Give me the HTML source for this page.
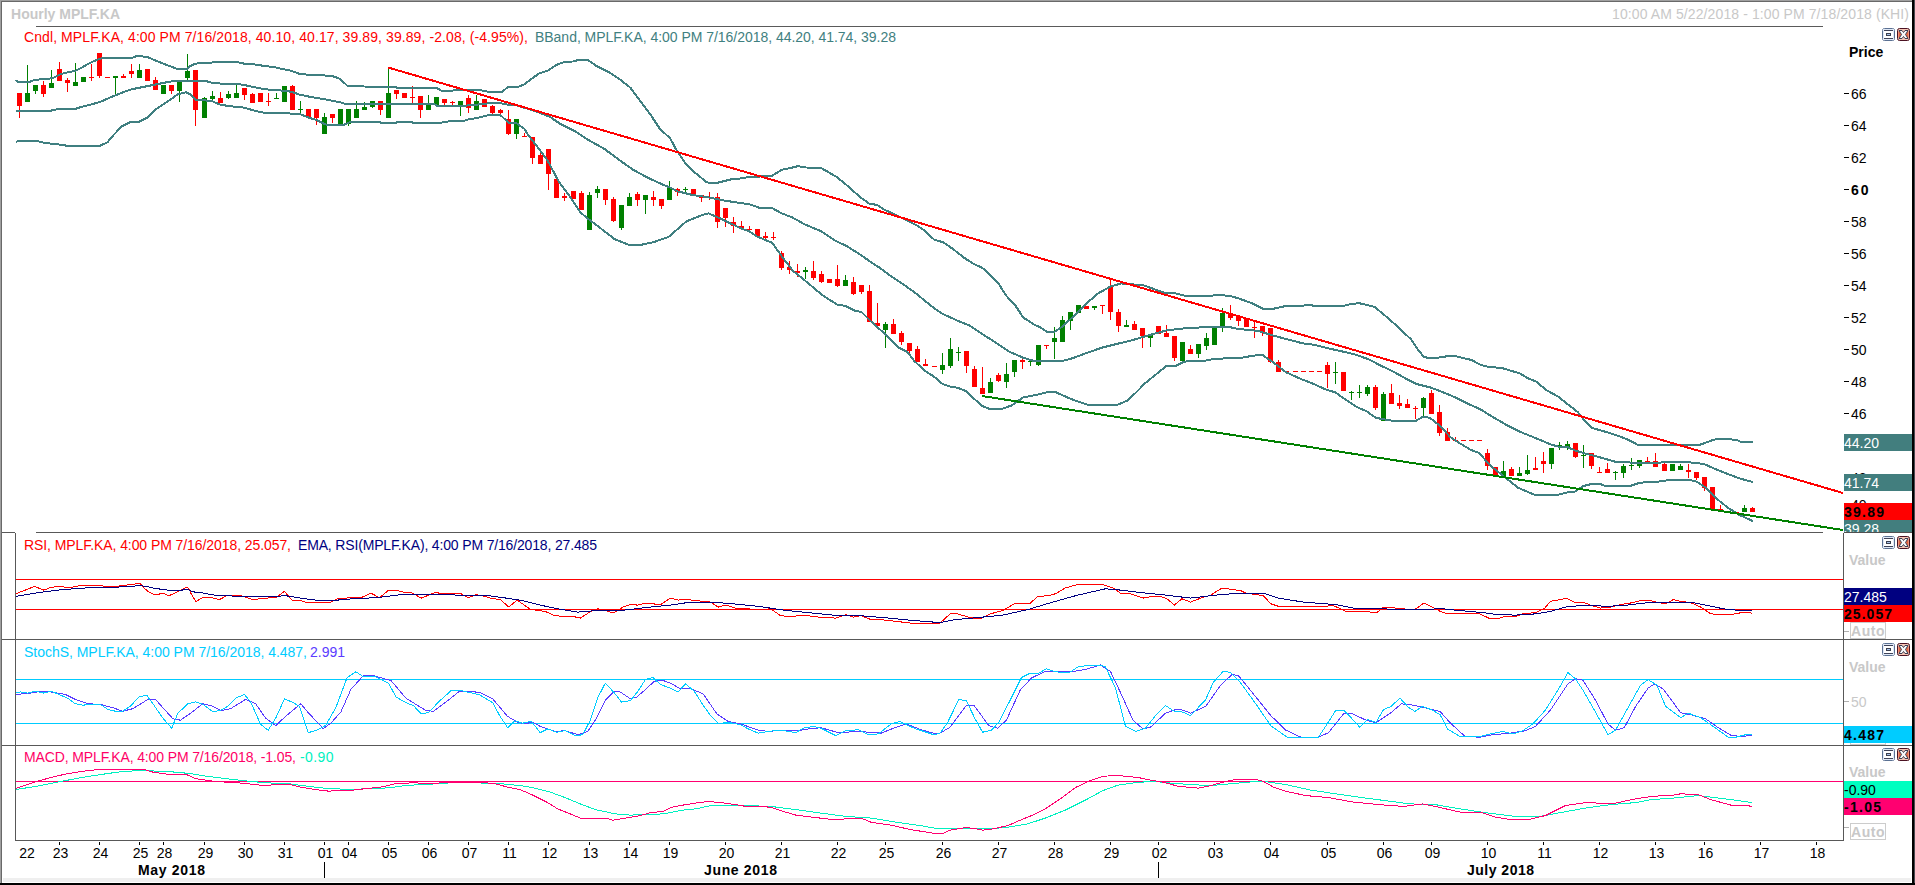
<!DOCTYPE html>
<html><head><meta charset="utf-8"><title>Hourly MPLF.KA</title><style>html,body{margin:0;padding:0;background:#fff;overflow:hidden}svg{display:block}</style></head><body>
<svg width="1915" height="885" viewBox="0 0 1915 885" font-family="'Liberation Sans', Arial, sans-serif">
<rect x="0" y="0" width="1915" height="885" fill="#ffffff"/>
<text x="11" y="19" fill="#c8c8c8" font-size="14" font-weight="bold" textLength="109" lengthAdjust="spacing">Hourly MPLF.KA</text>
<text x="1909" y="19" fill="#c8c8c8" font-size="14" text-anchor="end" textLength="297" lengthAdjust="spacing">10:00 AM 5/22/2018 - 1:00 PM 7/18/2018 (KHI)</text>
<rect x="36" y="26" width="1787" height="1" fill="#5a5a5a"/>
<text y="42" font-size="14"><tspan x="24" fill="#ff0000" textLength="504" lengthAdjust="spacing">Cndl, MPLF.KA, 4:00 PM 7/16/2018, 40.10, 40.17, 39.89, 39.89, -2.08, (-4.95%),</tspan><tspan x="535" fill="#3f8080" textLength="361" lengthAdjust="spacing">BBand, MPLF.KA, 4:00 PM 7/16/2018, 44.20, 41.74, 39.28</tspan></text>
<defs><clipPath id="cm"><rect x="2" y="27" width="1841" height="505"/></clipPath><clipPath id="cr"><rect x="16" y="533" width="1827" height="106"/></clipPath><clipPath id="cs"><rect x="16" y="640" width="1827" height="105"/></clipPath><clipPath id="cd"><rect x="16" y="746" width="1827" height="94"/></clipPath></defs>
<g clip-path="url(#cm)" shape-rendering="crispEdges">
<rect x="19" y="93" width="1" height="25" fill="#ff0000"/>
<rect x="17" y="93" width="5" height="13" fill="#ff0000"/>
<rect x="27" y="65" width="1" height="37" fill="#008000"/>
<rect x="25" y="93" width="5" height="9" fill="#008000"/>
<rect x="35" y="85" width="1" height="9" fill="#008000"/>
<rect x="33" y="85" width="5" height="6" fill="#008000"/>
<rect x="43" y="81" width="1" height="16" fill="#ff0000"/>
<rect x="41" y="85" width="5" height="9" fill="#ff0000"/>
<rect x="51" y="70" width="1" height="18" fill="#008000"/>
<rect x="49" y="83" width="5" height="5" fill="#008000"/>
<rect x="59" y="62" width="1" height="19" fill="#ff0000"/>
<rect x="57" y="69" width="5" height="12" fill="#ff0000"/>
<rect x="67" y="78" width="1" height="14" fill="#ff0000"/>
<rect x="65" y="80" width="5" height="3" fill="#ff0000"/>
<rect x="75" y="63" width="1" height="23" fill="#008000"/>
<rect x="73" y="82" width="5" height="4" fill="#008000"/>
<rect x="83" y="77" width="1" height="5" fill="#008000"/>
<rect x="81" y="77" width="5" height="5" fill="#008000"/>
<rect x="91" y="64" width="1" height="17" fill="#ff0000"/>
<rect x="89" y="77" width="5" height="1" fill="#ff0000"/>
<rect x="99" y="53" width="1" height="25" fill="#ff0000"/>
<rect x="97" y="53" width="5" height="23" fill="#ff0000"/>
<rect x="105" y="77" width="5" height="1" fill="#ff0000"/>
<rect x="115" y="76" width="1" height="18" fill="#008000"/>
<rect x="113" y="76" width="5" height="2" fill="#008000"/>
<rect x="123" y="74" width="1" height="4" fill="#ff0000"/>
<rect x="121" y="76" width="5" height="2" fill="#ff0000"/>
<rect x="131" y="64" width="1" height="14" fill="#ff0000"/>
<rect x="129" y="71" width="5" height="3" fill="#ff0000"/>
<rect x="139" y="64" width="1" height="14" fill="#008000"/>
<rect x="137" y="70" width="5" height="8" fill="#008000"/>
<rect x="147" y="69" width="1" height="12" fill="#ff0000"/>
<rect x="145" y="69" width="5" height="12" fill="#ff0000"/>
<rect x="155" y="77" width="1" height="13" fill="#ff0000"/>
<rect x="153" y="80" width="5" height="10" fill="#ff0000"/>
<rect x="163" y="85" width="1" height="9" fill="#008000"/>
<rect x="161" y="85" width="5" height="9" fill="#008000"/>
<rect x="171" y="85" width="1" height="9" fill="#ff0000"/>
<rect x="169" y="85" width="5" height="6" fill="#ff0000"/>
<rect x="179" y="82" width="1" height="20" fill="#008000"/>
<rect x="177" y="82" width="5" height="9" fill="#008000"/>
<rect x="187" y="54" width="1" height="26" fill="#008000"/>
<rect x="185" y="71" width="5" height="7" fill="#008000"/>
<rect x="195" y="70" width="1" height="56" fill="#ff0000"/>
<rect x="193" y="70" width="5" height="40" fill="#ff0000"/>
<rect x="204" y="97" width="1" height="21" fill="#008000"/>
<rect x="202" y="98" width="5" height="20" fill="#008000"/>
<rect x="212" y="91" width="1" height="9" fill="#008000"/>
<rect x="210" y="96" width="5" height="3" fill="#008000"/>
<rect x="220" y="92" width="1" height="11" fill="#ff0000"/>
<rect x="218" y="98" width="5" height="5" fill="#ff0000"/>
<rect x="228" y="91" width="1" height="8" fill="#008000"/>
<rect x="226" y="94" width="5" height="4" fill="#008000"/>
<rect x="236" y="85" width="1" height="13" fill="#008000"/>
<rect x="234" y="93" width="5" height="5" fill="#008000"/>
<rect x="244" y="88" width="1" height="12" fill="#ff0000"/>
<rect x="242" y="88" width="5" height="7" fill="#ff0000"/>
<rect x="252" y="93" width="1" height="10" fill="#ff0000"/>
<rect x="250" y="94" width="5" height="9" fill="#ff0000"/>
<rect x="260" y="93" width="1" height="9" fill="#ff0000"/>
<rect x="258" y="93" width="5" height="9" fill="#ff0000"/>
<rect x="268" y="93" width="1" height="13" fill="#ff0000"/>
<rect x="266" y="101" width="5" height="1" fill="#ff0000"/>
<rect x="276" y="93" width="1" height="6" fill="#008000"/>
<rect x="274" y="98" width="5" height="1" fill="#008000"/>
<rect x="284" y="86" width="1" height="16" fill="#008000"/>
<rect x="282" y="86" width="5" height="16" fill="#008000"/>
<rect x="292" y="85" width="1" height="25" fill="#ff0000"/>
<rect x="290" y="86" width="5" height="24" fill="#ff0000"/>
<rect x="300" y="101" width="1" height="12" fill="#008000"/>
<rect x="298" y="109" width="5" height="1" fill="#008000"/>
<rect x="308" y="109" width="1" height="8" fill="#ff0000"/>
<rect x="306" y="109" width="5" height="8" fill="#ff0000"/>
<rect x="316" y="109" width="1" height="16" fill="#ff0000"/>
<rect x="314" y="109" width="5" height="9" fill="#ff0000"/>
<rect x="324" y="113" width="1" height="21" fill="#008000"/>
<rect x="322" y="117" width="5" height="17" fill="#008000"/>
<rect x="332" y="114" width="1" height="9" fill="#ff0000"/>
<rect x="330" y="114" width="5" height="4" fill="#ff0000"/>
<rect x="340" y="109" width="1" height="15" fill="#008000"/>
<rect x="338" y="109" width="5" height="15" fill="#008000"/>
<rect x="348" y="109" width="1" height="17" fill="#008000"/>
<rect x="346" y="109" width="5" height="15" fill="#008000"/>
<rect x="356" y="101" width="1" height="17" fill="#008000"/>
<rect x="354" y="109" width="5" height="9" fill="#008000"/>
<rect x="364" y="102" width="1" height="8" fill="#008000"/>
<rect x="362" y="107" width="5" height="3" fill="#008000"/>
<rect x="372" y="101" width="1" height="7" fill="#008000"/>
<rect x="370" y="101" width="5" height="6" fill="#008000"/>
<rect x="380" y="101" width="1" height="14" fill="#ff0000"/>
<rect x="378" y="101" width="5" height="9" fill="#ff0000"/>
<rect x="388" y="67" width="1" height="51" fill="#008000"/>
<rect x="386" y="93" width="5" height="25" fill="#008000"/>
<rect x="396" y="90" width="1" height="9" fill="#ff0000"/>
<rect x="394" y="90" width="5" height="4" fill="#ff0000"/>
<rect x="404" y="93" width="1" height="5" fill="#ff0000"/>
<rect x="402" y="93" width="5" height="5" fill="#ff0000"/>
<rect x="412" y="86" width="1" height="18" fill="#ff0000"/>
<rect x="410" y="97" width="5" height="1" fill="#ff0000"/>
<rect x="420" y="96" width="1" height="22" fill="#ff0000"/>
<rect x="418" y="96" width="5" height="14" fill="#ff0000"/>
<rect x="428" y="95" width="1" height="15" fill="#008000"/>
<rect x="426" y="105" width="5" height="5" fill="#008000"/>
<rect x="436" y="97" width="1" height="8" fill="#008000"/>
<rect x="434" y="97" width="5" height="8" fill="#008000"/>
<rect x="444" y="99" width="1" height="6" fill="#ff0000"/>
<rect x="442" y="99" width="5" height="4" fill="#ff0000"/>
<rect x="452" y="101" width="1" height="4" fill="#ff0000"/>
<rect x="450" y="102" width="5" height="1" fill="#ff0000"/>
<rect x="460" y="101" width="1" height="15" fill="#008000"/>
<rect x="458" y="101" width="5" height="6" fill="#008000"/>
<rect x="468" y="95" width="1" height="18" fill="#ff0000"/>
<rect x="466" y="98" width="5" height="10" fill="#ff0000"/>
<rect x="476" y="95" width="1" height="15" fill="#008000"/>
<rect x="474" y="101" width="5" height="9" fill="#008000"/>
<rect x="484" y="99" width="1" height="8" fill="#ff0000"/>
<rect x="482" y="99" width="5" height="8" fill="#ff0000"/>
<rect x="492" y="105" width="1" height="9" fill="#ff0000"/>
<rect x="490" y="106" width="5" height="7" fill="#ff0000"/>
<rect x="500" y="109" width="1" height="5" fill="#ff0000"/>
<rect x="498" y="110" width="5" height="3" fill="#ff0000"/>
<rect x="508" y="110" width="1" height="25" fill="#ff0000"/>
<rect x="506" y="119" width="5" height="15" fill="#ff0000"/>
<rect x="516" y="119" width="1" height="20" fill="#008000"/>
<rect x="514" y="119" width="5" height="15" fill="#008000"/>
<rect x="524" y="133" width="1" height="4" fill="#ff0000"/>
<rect x="522" y="136" width="5" height="1" fill="#ff0000"/>
<rect x="532" y="137" width="1" height="27" fill="#ff0000"/>
<rect x="530" y="137" width="5" height="21" fill="#ff0000"/>
<rect x="540" y="153" width="1" height="11" fill="#ff0000"/>
<rect x="538" y="155" width="5" height="9" fill="#ff0000"/>
<rect x="548" y="149" width="1" height="41" fill="#ff0000"/>
<rect x="546" y="149" width="5" height="25" fill="#ff0000"/>
<rect x="556" y="179" width="1" height="19" fill="#ff0000"/>
<rect x="554" y="179" width="5" height="19" fill="#ff0000"/>
<rect x="564" y="193" width="1" height="8" fill="#ff0000"/>
<rect x="562" y="196" width="5" height="2" fill="#ff0000"/>
<rect x="573" y="191" width="1" height="8" fill="#ff0000"/>
<rect x="571" y="191" width="5" height="8" fill="#ff0000"/>
<rect x="581" y="191" width="1" height="19" fill="#ff0000"/>
<rect x="579" y="193" width="5" height="17" fill="#ff0000"/>
<rect x="589" y="192" width="1" height="38" fill="#008000"/>
<rect x="587" y="195" width="5" height="35" fill="#008000"/>
<rect x="597" y="186" width="1" height="12" fill="#008000"/>
<rect x="595" y="189" width="5" height="4" fill="#008000"/>
<rect x="605" y="189" width="1" height="16" fill="#ff0000"/>
<rect x="603" y="189" width="5" height="11" fill="#ff0000"/>
<rect x="613" y="197" width="1" height="25" fill="#ff0000"/>
<rect x="611" y="199" width="5" height="22" fill="#ff0000"/>
<rect x="621" y="205" width="1" height="25" fill="#008000"/>
<rect x="619" y="205" width="5" height="23" fill="#008000"/>
<rect x="629" y="193" width="1" height="13" fill="#008000"/>
<rect x="627" y="197" width="5" height="9" fill="#008000"/>
<rect x="637" y="192" width="1" height="14" fill="#ff0000"/>
<rect x="635" y="194" width="5" height="6" fill="#ff0000"/>
<rect x="645" y="195" width="1" height="19" fill="#008000"/>
<rect x="643" y="195" width="5" height="5" fill="#008000"/>
<rect x="653" y="191" width="1" height="15" fill="#ff0000"/>
<rect x="651" y="197" width="5" height="3" fill="#ff0000"/>
<rect x="661" y="199" width="1" height="10" fill="#ff0000"/>
<rect x="659" y="199" width="5" height="7" fill="#ff0000"/>
<rect x="669" y="181" width="1" height="19" fill="#008000"/>
<rect x="667" y="187" width="5" height="13" fill="#008000"/>
<rect x="677" y="188" width="1" height="8" fill="#ff0000"/>
<rect x="675" y="189" width="5" height="3" fill="#ff0000"/>
<rect x="685" y="187" width="1" height="5" fill="#008000"/>
<rect x="683" y="189" width="5" height="1" fill="#008000"/>
<rect x="693" y="189" width="1" height="6" fill="#ff0000"/>
<rect x="691" y="189" width="5" height="6" fill="#ff0000"/>
<rect x="701" y="195" width="1" height="7" fill="#ff0000"/>
<rect x="699" y="195" width="5" height="3" fill="#ff0000"/>
<rect x="709" y="192" width="1" height="8" fill="#ff0000"/>
<rect x="707" y="197" width="5" height="1" fill="#ff0000"/>
<rect x="717" y="193" width="1" height="35" fill="#ff0000"/>
<rect x="715" y="197" width="5" height="25" fill="#ff0000"/>
<rect x="725" y="208" width="1" height="19" fill="#ff0000"/>
<rect x="723" y="208" width="5" height="10" fill="#ff0000"/>
<rect x="733" y="217" width="1" height="16" fill="#ff0000"/>
<rect x="731" y="222" width="5" height="4" fill="#ff0000"/>
<rect x="741" y="221" width="1" height="9" fill="#ff0000"/>
<rect x="739" y="226" width="5" height="2" fill="#ff0000"/>
<rect x="749" y="226" width="1" height="4" fill="#ff0000"/>
<rect x="747" y="229" width="5" height="1" fill="#ff0000"/>
<rect x="757" y="229" width="1" height="7" fill="#ff0000"/>
<rect x="755" y="229" width="5" height="7" fill="#ff0000"/>
<rect x="765" y="232" width="1" height="7" fill="#ff0000"/>
<rect x="763" y="236" width="5" height="2" fill="#ff0000"/>
<rect x="773" y="232" width="1" height="8" fill="#ff0000"/>
<rect x="771" y="237" width="5" height="1" fill="#ff0000"/>
<rect x="781" y="251" width="1" height="19" fill="#ff0000"/>
<rect x="779" y="253" width="5" height="15" fill="#ff0000"/>
<rect x="789" y="261" width="1" height="13" fill="#ff0000"/>
<rect x="787" y="267" width="5" height="3" fill="#ff0000"/>
<rect x="797" y="264" width="1" height="13" fill="#ff0000"/>
<rect x="795" y="271" width="5" height="2" fill="#ff0000"/>
<rect x="805" y="267" width="1" height="12" fill="#008000"/>
<rect x="803" y="270" width="5" height="2" fill="#008000"/>
<rect x="813" y="261" width="1" height="19" fill="#ff0000"/>
<rect x="811" y="271" width="5" height="7" fill="#ff0000"/>
<rect x="821" y="271" width="1" height="12" fill="#ff0000"/>
<rect x="819" y="274" width="5" height="8" fill="#ff0000"/>
<rect x="829" y="279" width="1" height="4" fill="#ff0000"/>
<rect x="827" y="279" width="5" height="4" fill="#ff0000"/>
<rect x="837" y="265" width="1" height="22" fill="#ff0000"/>
<rect x="835" y="279" width="5" height="7" fill="#ff0000"/>
<rect x="845" y="275" width="1" height="11" fill="#008000"/>
<rect x="843" y="280" width="5" height="6" fill="#008000"/>
<rect x="853" y="277" width="1" height="18" fill="#ff0000"/>
<rect x="851" y="282" width="5" height="12" fill="#ff0000"/>
<rect x="861" y="285" width="1" height="9" fill="#ff0000"/>
<rect x="859" y="285" width="5" height="7" fill="#ff0000"/>
<rect x="869" y="285" width="1" height="37" fill="#ff0000"/>
<rect x="867" y="291" width="5" height="31" fill="#ff0000"/>
<rect x="877" y="303" width="1" height="23" fill="#ff0000"/>
<rect x="875" y="323" width="5" height="3" fill="#ff0000"/>
<rect x="885" y="322" width="1" height="26" fill="#008000"/>
<rect x="883" y="324" width="5" height="6" fill="#008000"/>
<rect x="893" y="319" width="1" height="15" fill="#ff0000"/>
<rect x="891" y="324" width="5" height="10" fill="#ff0000"/>
<rect x="901" y="331" width="1" height="14" fill="#ff0000"/>
<rect x="899" y="333" width="5" height="9" fill="#ff0000"/>
<rect x="909" y="343" width="1" height="11" fill="#ff0000"/>
<rect x="907" y="343" width="5" height="8" fill="#ff0000"/>
<rect x="917" y="346" width="1" height="16" fill="#ff0000"/>
<rect x="915" y="349" width="5" height="13" fill="#ff0000"/>
<rect x="925" y="359" width="1" height="7" fill="#ff0000"/>
<rect x="923" y="364" width="5" height="2" fill="#ff0000"/>
<rect x="932" y="366" width="5" height="1" fill="#ff0000"/>
<rect x="942" y="353" width="1" height="21" fill="#008000"/>
<rect x="940" y="365" width="5" height="5" fill="#008000"/>
<rect x="950" y="338" width="1" height="30" fill="#008000"/>
<rect x="948" y="349" width="5" height="17" fill="#008000"/>
<rect x="958" y="347" width="1" height="14" fill="#008000"/>
<rect x="956" y="352" width="5" height="1" fill="#008000"/>
<rect x="966" y="351" width="1" height="22" fill="#ff0000"/>
<rect x="964" y="351" width="5" height="15" fill="#ff0000"/>
<rect x="974" y="366" width="1" height="21" fill="#ff0000"/>
<rect x="972" y="369" width="5" height="18" fill="#ff0000"/>
<rect x="982" y="367" width="1" height="27" fill="#ff0000"/>
<rect x="980" y="388" width="5" height="6" fill="#ff0000"/>
<rect x="990" y="378" width="1" height="15" fill="#008000"/>
<rect x="988" y="382" width="5" height="11" fill="#008000"/>
<rect x="998" y="373" width="1" height="9" fill="#ff0000"/>
<rect x="996" y="375" width="5" height="6" fill="#ff0000"/>
<rect x="1006" y="363" width="1" height="25" fill="#008000"/>
<rect x="1004" y="374" width="5" height="8" fill="#008000"/>
<rect x="1014" y="360" width="1" height="17" fill="#008000"/>
<rect x="1012" y="360" width="5" height="12" fill="#008000"/>
<rect x="1022" y="356" width="1" height="13" fill="#ff0000"/>
<rect x="1020" y="360" width="5" height="2" fill="#ff0000"/>
<rect x="1030" y="360" width="1" height="6" fill="#008000"/>
<rect x="1028" y="361" width="5" height="1" fill="#008000"/>
<rect x="1038" y="345" width="1" height="21" fill="#008000"/>
<rect x="1036" y="345" width="5" height="20" fill="#008000"/>
<rect x="1046" y="345" width="1" height="4" fill="#ff0000"/>
<rect x="1044" y="345" width="5" height="1" fill="#ff0000"/>
<rect x="1054" y="327" width="1" height="32" fill="#008000"/>
<rect x="1052" y="338" width="5" height="4" fill="#008000"/>
<rect x="1062" y="316" width="1" height="26" fill="#008000"/>
<rect x="1060" y="320" width="5" height="22" fill="#008000"/>
<rect x="1070" y="312" width="1" height="18" fill="#008000"/>
<rect x="1068" y="312" width="5" height="9" fill="#008000"/>
<rect x="1078" y="305" width="1" height="8" fill="#008000"/>
<rect x="1076" y="305" width="5" height="8" fill="#008000"/>
<rect x="1086" y="306" width="1" height="3" fill="#ff0000"/>
<rect x="1084" y="306" width="5" height="3" fill="#ff0000"/>
<rect x="1094" y="306" width="1" height="4" fill="#008000"/>
<rect x="1092" y="306" width="5" height="2" fill="#008000"/>
<rect x="1102" y="305" width="1" height="9" fill="#ff0000"/>
<rect x="1100" y="305" width="5" height="1" fill="#ff0000"/>
<rect x="1110" y="280" width="1" height="40" fill="#ff0000"/>
<rect x="1108" y="286" width="5" height="26" fill="#ff0000"/>
<rect x="1118" y="309" width="1" height="23" fill="#ff0000"/>
<rect x="1116" y="312" width="5" height="14" fill="#ff0000"/>
<rect x="1126" y="320" width="1" height="7" fill="#008000"/>
<rect x="1124" y="325" width="5" height="2" fill="#008000"/>
<rect x="1134" y="321" width="1" height="9" fill="#ff0000"/>
<rect x="1132" y="324" width="5" height="6" fill="#ff0000"/>
<rect x="1142" y="328" width="1" height="20" fill="#ff0000"/>
<rect x="1140" y="328" width="5" height="8" fill="#ff0000"/>
<rect x="1150" y="335" width="1" height="12" fill="#008000"/>
<rect x="1148" y="335" width="5" height="3" fill="#008000"/>
<rect x="1158" y="326" width="1" height="8" fill="#ff0000"/>
<rect x="1156" y="326" width="5" height="8" fill="#ff0000"/>
<rect x="1166" y="325" width="1" height="12" fill="#ff0000"/>
<rect x="1164" y="333" width="5" height="4" fill="#ff0000"/>
<rect x="1174" y="336" width="1" height="25" fill="#ff0000"/>
<rect x="1172" y="336" width="5" height="22" fill="#ff0000"/>
<rect x="1182" y="342" width="1" height="19" fill="#008000"/>
<rect x="1180" y="342" width="5" height="19" fill="#008000"/>
<rect x="1190" y="345" width="1" height="9" fill="#ff0000"/>
<rect x="1188" y="349" width="5" height="5" fill="#ff0000"/>
<rect x="1198" y="344" width="1" height="14" fill="#008000"/>
<rect x="1196" y="344" width="5" height="10" fill="#008000"/>
<rect x="1206" y="333" width="1" height="17" fill="#008000"/>
<rect x="1204" y="338" width="5" height="8" fill="#008000"/>
<rect x="1214" y="328" width="1" height="17" fill="#008000"/>
<rect x="1212" y="328" width="5" height="17" fill="#008000"/>
<rect x="1222" y="308" width="1" height="24" fill="#008000"/>
<rect x="1220" y="313" width="5" height="15" fill="#008000"/>
<rect x="1230" y="305" width="1" height="15" fill="#ff0000"/>
<rect x="1228" y="313" width="5" height="5" fill="#ff0000"/>
<rect x="1238" y="316" width="1" height="10" fill="#ff0000"/>
<rect x="1236" y="316" width="5" height="5" fill="#ff0000"/>
<rect x="1246" y="319" width="1" height="8" fill="#ff0000"/>
<rect x="1244" y="319" width="5" height="8" fill="#ff0000"/>
<rect x="1254" y="321" width="1" height="17" fill="#ff0000"/>
<rect x="1252" y="327" width="5" height="1" fill="#ff0000"/>
<rect x="1262" y="326" width="1" height="10" fill="#ff0000"/>
<rect x="1260" y="326" width="5" height="6" fill="#ff0000"/>
<rect x="1270" y="328" width="1" height="35" fill="#ff0000"/>
<rect x="1268" y="328" width="5" height="34" fill="#ff0000"/>
<rect x="1278" y="360" width="1" height="12" fill="#ff0000"/>
<rect x="1276" y="362" width="5" height="10" fill="#ff0000"/>
<rect x="1284" y="371" width="5" height="1" fill="#ff0000"/>
<rect x="1293" y="371" width="5" height="1" fill="#ff0000"/>
<rect x="1301" y="371" width="5" height="1" fill="#ff0000"/>
<rect x="1309" y="371" width="5" height="1" fill="#ff0000"/>
<rect x="1317" y="371" width="5" height="1" fill="#ff0000"/>
<rect x="1327" y="362" width="1" height="26" fill="#ff0000"/>
<rect x="1325" y="365" width="5" height="9" fill="#ff0000"/>
<rect x="1335" y="362" width="1" height="22" fill="#008000"/>
<rect x="1333" y="372" width="5" height="1" fill="#008000"/>
<rect x="1343" y="372" width="1" height="19" fill="#ff0000"/>
<rect x="1341" y="372" width="5" height="19" fill="#ff0000"/>
<rect x="1351" y="391" width="1" height="9" fill="#008000"/>
<rect x="1349" y="392" width="5" height="1" fill="#008000"/>
<rect x="1359" y="385" width="1" height="13" fill="#008000"/>
<rect x="1357" y="392" width="5" height="1" fill="#008000"/>
<rect x="1367" y="385" width="1" height="11" fill="#008000"/>
<rect x="1365" y="387" width="5" height="7" fill="#008000"/>
<rect x="1375" y="385" width="1" height="25" fill="#ff0000"/>
<rect x="1373" y="387" width="5" height="21" fill="#ff0000"/>
<rect x="1383" y="392" width="1" height="29" fill="#008000"/>
<rect x="1381" y="394" width="5" height="27" fill="#008000"/>
<rect x="1391" y="384" width="1" height="20" fill="#ff0000"/>
<rect x="1389" y="393" width="5" height="11" fill="#ff0000"/>
<rect x="1399" y="395" width="1" height="14" fill="#ff0000"/>
<rect x="1397" y="403" width="5" height="3" fill="#ff0000"/>
<rect x="1407" y="399" width="1" height="9" fill="#ff0000"/>
<rect x="1405" y="404" width="5" height="4" fill="#ff0000"/>
<rect x="1415" y="406" width="1" height="13" fill="#ff0000"/>
<rect x="1413" y="408" width="5" height="1" fill="#ff0000"/>
<rect x="1423" y="397" width="1" height="19" fill="#008000"/>
<rect x="1421" y="398" width="5" height="10" fill="#008000"/>
<rect x="1431" y="390" width="1" height="24" fill="#ff0000"/>
<rect x="1429" y="393" width="5" height="21" fill="#ff0000"/>
<rect x="1439" y="405" width="1" height="31" fill="#ff0000"/>
<rect x="1437" y="412" width="5" height="21" fill="#ff0000"/>
<rect x="1447" y="428" width="1" height="13" fill="#ff0000"/>
<rect x="1445" y="432" width="5" height="9" fill="#ff0000"/>
<rect x="1455" y="437" width="1" height="4" fill="#ff0000"/>
<rect x="1453" y="440" width="5" height="1" fill="#ff0000"/>
<rect x="1461" y="440" width="5" height="1" fill="#ff0000"/>
<rect x="1469" y="440" width="5" height="1" fill="#ff0000"/>
<rect x="1477" y="440" width="5" height="1" fill="#ff0000"/>
<rect x="1487" y="449" width="1" height="21" fill="#ff0000"/>
<rect x="1485" y="453" width="5" height="13" fill="#ff0000"/>
<rect x="1495" y="467" width="1" height="8" fill="#ff0000"/>
<rect x="1493" y="467" width="5" height="8" fill="#ff0000"/>
<rect x="1503" y="461" width="1" height="15" fill="#008000"/>
<rect x="1501" y="471" width="5" height="5" fill="#008000"/>
<rect x="1511" y="467" width="1" height="9" fill="#ff0000"/>
<rect x="1509" y="469" width="5" height="7" fill="#ff0000"/>
<rect x="1519" y="467" width="1" height="9" fill="#008000"/>
<rect x="1517" y="473" width="5" height="3" fill="#008000"/>
<rect x="1527" y="455" width="1" height="20" fill="#008000"/>
<rect x="1525" y="470" width="5" height="4" fill="#008000"/>
<rect x="1535" y="457" width="1" height="13" fill="#ff0000"/>
<rect x="1533" y="468" width="5" height="2" fill="#ff0000"/>
<rect x="1543" y="452" width="1" height="21" fill="#ff0000"/>
<rect x="1541" y="461" width="5" height="3" fill="#ff0000"/>
<rect x="1551" y="448" width="1" height="21" fill="#008000"/>
<rect x="1549" y="448" width="5" height="16" fill="#008000"/>
<rect x="1559" y="442" width="1" height="8" fill="#008000"/>
<rect x="1557" y="445" width="5" height="1" fill="#008000"/>
<rect x="1567" y="441" width="1" height="9" fill="#008000"/>
<rect x="1565" y="444" width="5" height="3" fill="#008000"/>
<rect x="1575" y="443" width="1" height="15" fill="#ff0000"/>
<rect x="1573" y="443" width="5" height="14" fill="#ff0000"/>
<rect x="1583" y="445" width="1" height="23" fill="#008000"/>
<rect x="1581" y="455" width="5" height="1" fill="#008000"/>
<rect x="1591" y="453" width="1" height="16" fill="#ff0000"/>
<rect x="1589" y="453" width="5" height="13" fill="#ff0000"/>
<rect x="1599" y="467" width="1" height="6" fill="#ff0000"/>
<rect x="1597" y="472" width="5" height="1" fill="#ff0000"/>
<rect x="1607" y="463" width="1" height="10" fill="#ff0000"/>
<rect x="1605" y="469" width="5" height="4" fill="#ff0000"/>
<rect x="1615" y="471" width="1" height="9" fill="#008000"/>
<rect x="1613" y="472" width="5" height="1" fill="#008000"/>
<rect x="1623" y="464" width="1" height="14" fill="#008000"/>
<rect x="1621" y="466" width="5" height="7" fill="#008000"/>
<rect x="1631" y="458" width="1" height="12" fill="#008000"/>
<rect x="1629" y="465" width="5" height="1" fill="#008000"/>
<rect x="1639" y="460" width="1" height="8" fill="#008000"/>
<rect x="1637" y="460" width="5" height="6" fill="#008000"/>
<rect x="1647" y="457" width="1" height="5" fill="#ff0000"/>
<rect x="1645" y="461" width="5" height="1" fill="#ff0000"/>
<rect x="1655" y="453" width="1" height="14" fill="#ff0000"/>
<rect x="1653" y="461" width="5" height="6" fill="#ff0000"/>
<rect x="1664" y="461" width="1" height="10" fill="#ff0000"/>
<rect x="1662" y="464" width="5" height="7" fill="#ff0000"/>
<rect x="1672" y="464" width="1" height="7" fill="#008000"/>
<rect x="1670" y="464" width="5" height="7" fill="#008000"/>
<rect x="1680" y="464" width="1" height="6" fill="#008000"/>
<rect x="1678" y="466" width="5" height="4" fill="#008000"/>
<rect x="1688" y="464" width="1" height="14" fill="#ff0000"/>
<rect x="1686" y="470" width="5" height="2" fill="#ff0000"/>
<rect x="1696" y="472" width="1" height="8" fill="#ff0000"/>
<rect x="1694" y="472" width="5" height="6" fill="#ff0000"/>
<rect x="1704" y="477" width="1" height="14" fill="#ff0000"/>
<rect x="1702" y="477" width="5" height="11" fill="#ff0000"/>
<rect x="1712" y="487" width="1" height="22" fill="#ff0000"/>
<rect x="1710" y="487" width="5" height="22" fill="#ff0000"/>
<rect x="1720" y="505" width="1" height="5" fill="#ff0000"/>
<rect x="1718" y="509" width="5" height="1" fill="#ff0000"/>
<rect x="1726" y="512" width="5" height="1" fill="#ff0000"/>
<rect x="1734" y="512" width="5" height="1" fill="#ff0000"/>
<rect x="1744" y="505" width="1" height="7" fill="#008000"/>
<rect x="1742" y="508" width="5" height="4" fill="#008000"/>
<rect x="1752" y="507" width="1" height="5" fill="#ff0000"/>
<rect x="1750" y="508" width="5" height="4" fill="#ff0000"/>
</g>
<g clip-path="url(#cm)">
<polyline points="16.1,80.0 17.1,81.6 30.3,81.6 35.4,79.7 47.6,79.0 52.7,78.0 60.8,74.2 67.0,72.4 75.1,70.9 83.2,66.8 90.3,62.7 97.5,59.7 103.6,57.7 115.8,58.2 131.0,58.2 136.1,56.3 146.3,56.6 152.4,59.2 162.5,63.3 176.8,68.8 187.0,68.8 190.0,66.3 195.5,63.6 204.5,63.0 220.4,61.9 236.2,61.9 244.0,63.6 252.0,64.1 260.0,65.3 267.8,66.4 275.7,67.5 283.6,69.2 291.6,70.9 300.6,74.3 316.4,74.9 332.2,76.0 340.1,78.8 347.5,86.0 364.0,86.5 396.0,87.0 397.0,87.7 436.0,87.7 441.4,90.6 452.5,90.6 455.6,89.6 485.0,90.6 488.0,91.8 501.9,91.8 508.5,86.7 518.6,86.7 524.0,84.6 538.6,73.7 548.0,70.6 555.4,65.4 564.8,61.7 573.1,61.5 579.4,59.6 588.8,60.5 596.1,65.9 610.7,73.2 620.1,79.5 630.5,87.8 638.9,99.3 651.4,116.0 654.0,120.0 659.9,128.8 670.2,138.4 676.1,149.4 684.9,162.6 695.2,172.9 706.9,182.4 715.7,183.2 730.4,179.5 740.0,178.5 749.2,176.9 760.1,176.5 772.3,175.6 781.7,169.8 792.6,167.5 798.0,166.1 806.1,167.5 821.0,167.9 836.6,176.9 848.2,186.4 860.0,197.0 869.2,203.6 877.3,205.0 884.4,209.7 894.6,214.3 905.8,219.9 918.0,226.0 925.1,231.1 934.2,239.7 943.4,242.3 953.5,249.4 963.7,257.5 973.9,264.1 982.0,267.7 988.1,272.8 998.0,282.7 1005.9,295.3 1015.4,305.6 1023.3,317.5 1032.8,323.8 1040.7,327.7 1047.0,331.7 1054.9,331.7 1062.8,326.2 1073.9,315.9 1085.0,304.8 1097.6,293.7 1110.3,286.6 1121.3,283.4 1140.0,285.0 1143.6,285.4 1163.9,292.5 1173.4,292.9 1184.2,295.6 1197.8,296.0 1222.2,295.2 1230.3,296.0 1238.4,298.3 1252.0,303.3 1262.8,308.7 1273.7,308.7 1285.9,306.0 1300.0,306.0 1310.9,304.7 1313.6,306.0 1343.4,306.0 1351.6,303.8 1359.7,303.3 1363.8,304.3 1374.7,307.0 1386.9,317.2 1396.4,325.6 1411.3,339.6 1417.9,349.5 1423.6,356.5 1427.6,357.9 1438.5,357.6 1449.4,355.9 1456.1,356.3 1471.1,359.9 1480.6,364.7 1487.4,366.7 1502.3,368.1 1520.0,373.5 1528.1,378.3 1536.3,381.7 1546.2,390.0 1558.4,396.8 1572.0,407.6 1577.4,411.7 1582.8,418.5 1592.3,428.0 1601.8,430.7 1612.6,434.0 1620.0,436.5 1628.1,439.7 1637.6,444.7 1700.0,444.7 1705.4,442.8 1713.5,439.7 1720.3,439.0 1736.6,439.7 1740.6,441.7 1752.8,441.7" fill="none" stroke="#3f7f80" stroke-width="2" stroke-linejoin="round" shape-rendering="crispEdges"/>
<polyline points="16.1,111.1 50.7,111.1 52.7,110.0 59.8,109.0 75.1,109.0 81.2,107.0 91.4,104.4 101.5,101.4 111.7,96.8 121.9,92.7 132.0,89.2 142.2,87.2 152.4,85.1 162.5,83.1 172.7,81.1 190.0,80.5 203.4,80.5 212.5,82.8 221.5,83.7 236.2,83.9 244.1,85.0 252.0,86.7 260.0,88.4 267.8,89.5 283.6,90.7 291.6,91.8 299.5,94.6 307.4,96.3 316.4,98.0 324.3,99.2 332.2,100.8 340.1,102.2 345.8,104.0 360.0,104.3 435.0,104.5 437.3,106.0 461.7,106.0 474.9,104.8 485.0,103.8 492.2,102.6 499.3,102.6 504.4,104.3 514.6,105.0 518.6,105.8 524.0,107.7 537.6,111.8 550.1,117.0 560.0,123.7 574.7,131.0 589.4,140.6 604.1,148.7 618.8,159.7 633.5,170.0 648.2,178.0 662.9,184.6 671.7,188.3 677.5,191.3 692.2,194.9 706.9,197.1 721.6,200.1 740.0,203.0 749.2,204.1 760.1,208.1 772.9,208.5 781.7,213.3 792.6,217.6 804.8,224.4 821.0,231.2 836.0,241.1 846.8,246.1 860.0,254.5 870.2,261.6 880.3,268.2 890.5,275.8 903.7,284.5 917.0,294.3 931.9,306.5 941.4,313.3 957.6,320.7 969.5,325.4 983.7,334.9 999.5,345.1 1009.0,351.5 1023.3,357.8 1034.3,361.0 1061.2,361.4 1073.9,357.8 1086.5,353.0 1102.4,347.5 1118.2,343.6 1130.5,340.7 1147.6,335.6 1166.6,330.4 1189.6,327.7 1214.0,327.2 1230.3,327.2 1238.4,329.1 1252.0,330.1 1260.1,331.5 1271.0,334.9 1285.9,339.0 1303.5,343.5 1313.6,344.7 1327.1,348.1 1340.7,351.1 1354.2,354.2 1367.8,359.0 1381.3,365.8 1394.9,372.5 1408.4,380.0 1416.6,384.0 1430.1,387.4 1441.0,391.5 1455.9,397.6 1469.4,404.4 1480.0,409.1 1490.7,415.8 1506.9,425.2 1520.5,432.0 1534.0,437.4 1550.3,444.2 1558.4,446.7 1566.6,446.7 1574.7,450.3 1585.5,453.7 1599.1,457.1 1615.4,461.8 1630.0,462.5 1637.6,463.1 1681.0,462.0 1689.1,462.3 1695.9,463.1 1704.0,464.0 1714.9,468.8 1728.4,474.2 1739.3,478.3 1752.8,482.1" fill="none" stroke="#3f7f80" stroke-width="2" stroke-linejoin="round" shape-rendering="crispEdges"/>
<polyline points="16.1,141.9 20.2,140.5 35.1,140.5 43.9,142.8 60.1,144.6 68.3,146.0 99.5,146.0 107.6,142.2 110.7,138.0 121.9,126.3 131.0,121.7 139.2,121.7 147.3,117.7 156.4,109.0 168.6,100.9 177.8,94.3 185.9,92.2 190.0,94.3 195.5,99.7 204.5,100.3 212.5,101.4 220.4,104.8 236.2,107.0 244.1,107.6 252.0,109.9 260.0,112.1 267.8,113.3 283.6,113.3 299.5,113.8 307.4,117.2 316.4,120.0 324.3,124.0 328.8,125.1 343.5,125.1 350.3,121.8 365.0,121.8 380.3,122.1 381.4,123.1 396.1,122.9 397.1,121.8 411.9,121.8 412.9,123.1 440.3,123.1 444.4,121.6 463.7,121.1 468.8,119.1 477.0,118.1 491.2,114.5 499.8,114.5 508.5,122.6 515.6,122.6 524.4,128.9 528.2,135.0 533.1,141.3 547.4,160.2 557.5,179.2 560.0,183.2 568.8,194.9 580.6,212.6 589.4,219.9 601.1,228.7 614.4,239.0 629.1,244.9 640.8,244.9 654.0,242.0 668.7,236.8 686.4,221.4 701.0,215.5 708.4,213.3 718.7,217.7 740.0,228.0 749.2,231.2 757.3,236.6 772.3,242.9 781.7,256.2 792.6,270.5 808.6,283.5 822.1,295.0 837.0,304.5 845.1,305.8 854.6,310.6 861.4,311.9 870.9,321.4 884.5,333.6 898.0,347.2 907.2,351.8 914.5,361.2 925.3,371.2 933.5,376.2 942.5,383.9 950.6,386.6 957.9,387.9 966.0,391.1 973.2,397.9 982.3,406.0 990.4,409.2 1001.1,409.2 1012.2,405.2 1023.3,397.3 1035.9,395.0 1048.6,391.8 1054.9,391.8 1070.7,398.9 1086.5,404.5 1102.4,405.2 1118.2,404.5 1127.7,400.5 1140.0,388.6 1143.6,384.4 1157.1,373.5 1166.6,365.7 1176.1,365.7 1184.2,361.6 1205.9,360.6 1215.4,358.6 1238.4,358.3 1247.9,356.6 1257.4,355.2 1262.8,355.2 1273.7,362.7 1285.9,372.2 1300.0,378.6 1313.6,384.0 1327.1,390.1 1335.2,392.2 1340.7,396.2 1356.9,407.1 1366.4,411.2 1375.9,417.9 1388.1,420.0 1394.9,421.1 1415.2,421.1 1423.3,416.6 1430.1,417.9 1441.0,426.7 1450.0,436.8 1456.8,441.5 1470.3,449.6 1479.1,453.0 1490.7,465.9 1504.2,476.7 1517.8,487.6 1534.0,494.6 1558.4,494.6 1567.9,492.3 1574.7,491.7 1582.8,486.2 1593.7,483.5 1599.1,483.5 1604.5,485.6 1620.0,486.1 1630.8,485.7 1640.3,482.6 1655.2,482.1 1671.5,479.6 1687.8,479.6 1695.9,481.3 1704.0,486.4 1714.9,497.3 1728.4,508.1 1739.3,514.9 1752.8,521.0" fill="none" stroke="#3f7f80" stroke-width="2" stroke-linejoin="round" shape-rendering="crispEdges"/>
<line x1="388" y1="67.5" x2="1843" y2="493" stroke="#ff0000" stroke-width="2" shape-rendering="crispEdges"/>
<line x1="982" y1="396" x2="1843" y2="530" stroke="#008000" stroke-width="2" shape-rendering="crispEdges"/>
</g>
<text x="1849" y="57" fill="#000000" font-size="14" font-weight="bold">Price</text>
<rect x="1844" y="93" width="5" height="1" fill="#000000"/>
<text x="1851" y="99" fill="#000000" font-size="14">66</text>
<rect x="1844" y="125" width="5" height="1" fill="#000000"/>
<text x="1851" y="131" fill="#000000" font-size="14">64</text>
<rect x="1844" y="157" width="5" height="1" fill="#000000"/>
<text x="1851" y="163" fill="#000000" font-size="14">62</text>
<rect x="1844" y="189" width="5" height="1" fill="#000000"/>
<text x="1851" y="195" fill="#000000" font-size="14" font-weight="bold" textLength="17.5" lengthAdjust="spacing">60</text>
<rect x="1844" y="221" width="5" height="1" fill="#000000"/>
<text x="1851" y="227" fill="#000000" font-size="14">58</text>
<rect x="1844" y="253" width="5" height="1" fill="#000000"/>
<text x="1851" y="259" fill="#000000" font-size="14">56</text>
<rect x="1844" y="285" width="5" height="1" fill="#000000"/>
<text x="1851" y="291" fill="#000000" font-size="14">54</text>
<rect x="1844" y="317" width="5" height="1" fill="#000000"/>
<text x="1851" y="323" fill="#000000" font-size="14">52</text>
<rect x="1844" y="349" width="5" height="1" fill="#000000"/>
<text x="1851" y="355" fill="#000000" font-size="14">50</text>
<rect x="1844" y="381" width="5" height="1" fill="#000000"/>
<text x="1851" y="387" fill="#000000" font-size="14">48</text>
<rect x="1844" y="413" width="5" height="1" fill="#000000"/>
<text x="1851" y="419" fill="#000000" font-size="14">46</text>
<rect x="1844" y="445" width="5" height="1" fill="#000000"/>
<text x="1851" y="451" fill="#000000" font-size="14">44</text>
<rect x="1844" y="477" width="5" height="1" fill="#000000"/>
<text x="1851" y="483" fill="#000000" font-size="14">42</text>
<rect x="1844" y="509" width="5" height="1" fill="#000000"/>
<text x="1851" y="510" fill="#000000" font-size="14">40</text>
<rect x="1844" y="434" width="68" height="17" fill="#427e7e"/>
<text x="1844" y="448" fill="#ffffff" font-size="14">44.20</text>
<rect x="1844" y="474" width="68" height="17" fill="#427e7e"/>
<text x="1844" y="488" fill="#ffffff" font-size="14">41.74</text>
<rect x="1844" y="503" width="68" height="17" fill="#ff0000"/>
<text x="1844" y="517" fill="#000000" font-size="14" font-weight="bold" textLength="40" lengthAdjust="spacing">39.89</text>
<g><clipPath id="c39"><rect x="1844" y="520" width="68" height="12"/></clipPath></g>
<g clip-path="url(#c39)">
<rect x="1844" y="520" width="68" height="12" fill="#427e7e"/>
<text x="1844" y="534" fill="#ffffff" font-size="14">39.28</text>
</g>
<rect x="1844" y="532" width="68" height="1" fill="#505050"/>
<rect x="1" y="532" width="14" height="1" fill="#585858"/>
<rect x="36" y="532" width="1787" height="1" fill="#585858"/>
<rect x="15" y="533" width="1" height="308" fill="#585858"/>
<rect x="1843" y="533" width="1" height="308" fill="#585858"/>
<rect x="1" y="639" width="1911" height="1" fill="#585858"/>
<rect x="1" y="745" width="1911" height="1" fill="#585858"/>
<rect x="15" y="840" width="1829" height="1" fill="#585858"/>
<g transform="translate(1882,28)"><rect x="0.5" y="0.5" width="12" height="12" rx="2" fill="#e8eef8" stroke="#5b7193"/><rect x="1" y="1" width="11" height="11" fill="#dfe8f6"/><rect x="2" y="3" width="9" height="7" fill="#ffffff"/><rect x="2" y="2" width="9" height="1" fill="#3e4258"/><rect x="2" y="10" width="9" height="1" fill="#3e4258"/><rect x="4.5" y="5.5" width="4" height="2" fill="#a8c4ec" stroke="#3c4050"/></g>
<g transform="translate(1897,28)"><rect x="0.5" y="0.5" width="12" height="12" rx="2" fill="#f7c4b4" stroke="#4a1222"/><path d="M1.5,3 L5,6.5 L1.5,10 Z M11.5,3 L8,6.5 L11.5,10 Z" fill="#e2603e"/><path d="M2,2.5 L5,2.5 L6.5,4.5 L8,2.5 L11,2.5 L8.5,6.5 L11,10.5 L8,10.5 L6.5,8.5 L5,10.5 L2,10.5 L4.5,6.5 Z" fill="#f8f8f8" stroke="#3a3e52" stroke-width="1"/></g>
<g transform="translate(1882,536)"><rect x="0.5" y="0.5" width="12" height="12" rx="2" fill="#e8eef8" stroke="#5b7193"/><rect x="1" y="1" width="11" height="11" fill="#dfe8f6"/><rect x="2" y="3" width="9" height="7" fill="#ffffff"/><rect x="2" y="2" width="9" height="1" fill="#3e4258"/><rect x="2" y="10" width="9" height="1" fill="#3e4258"/><rect x="4.5" y="5.5" width="4" height="2" fill="#a8c4ec" stroke="#3c4050"/></g>
<g transform="translate(1897,536)"><rect x="0.5" y="0.5" width="12" height="12" rx="2" fill="#f7c4b4" stroke="#4a1222"/><path d="M1.5,3 L5,6.5 L1.5,10 Z M11.5,3 L8,6.5 L11.5,10 Z" fill="#e2603e"/><path d="M2,2.5 L5,2.5 L6.5,4.5 L8,2.5 L11,2.5 L8.5,6.5 L11,10.5 L8,10.5 L6.5,8.5 L5,10.5 L2,10.5 L4.5,6.5 Z" fill="#f8f8f8" stroke="#3a3e52" stroke-width="1"/></g>
<g transform="translate(1882,643)"><rect x="0.5" y="0.5" width="12" height="12" rx="2" fill="#e8eef8" stroke="#5b7193"/><rect x="1" y="1" width="11" height="11" fill="#dfe8f6"/><rect x="2" y="3" width="9" height="7" fill="#ffffff"/><rect x="2" y="2" width="9" height="1" fill="#3e4258"/><rect x="2" y="10" width="9" height="1" fill="#3e4258"/><rect x="4.5" y="5.5" width="4" height="2" fill="#a8c4ec" stroke="#3c4050"/></g>
<g transform="translate(1897,643)"><rect x="0.5" y="0.5" width="12" height="12" rx="2" fill="#f7c4b4" stroke="#4a1222"/><path d="M1.5,3 L5,6.5 L1.5,10 Z M11.5,3 L8,6.5 L11.5,10 Z" fill="#e2603e"/><path d="M2,2.5 L5,2.5 L6.5,4.5 L8,2.5 L11,2.5 L8.5,6.5 L11,10.5 L8,10.5 L6.5,8.5 L5,10.5 L2,10.5 L4.5,6.5 Z" fill="#f8f8f8" stroke="#3a3e52" stroke-width="1"/></g>
<g transform="translate(1882,748)"><rect x="0.5" y="0.5" width="12" height="12" rx="2" fill="#e8eef8" stroke="#5b7193"/><rect x="1" y="1" width="11" height="11" fill="#dfe8f6"/><rect x="2" y="3" width="9" height="7" fill="#ffffff"/><rect x="2" y="2" width="9" height="1" fill="#3e4258"/><rect x="2" y="10" width="9" height="1" fill="#3e4258"/><rect x="4.5" y="5.5" width="4" height="2" fill="#a8c4ec" stroke="#3c4050"/></g>
<g transform="translate(1897,748)"><rect x="0.5" y="0.5" width="12" height="12" rx="2" fill="#f7c4b4" stroke="#4a1222"/><path d="M1.5,3 L5,6.5 L1.5,10 Z M11.5,3 L8,6.5 L11.5,10 Z" fill="#e2603e"/><path d="M2,2.5 L5,2.5 L6.5,4.5 L8,2.5 L11,2.5 L8.5,6.5 L11,10.5 L8,10.5 L6.5,8.5 L5,10.5 L2,10.5 L4.5,6.5 Z" fill="#f8f8f8" stroke="#3a3e52" stroke-width="1"/></g>
<text y="550" font-size="14"><tspan x="24" fill="#ff0000" textLength="267" lengthAdjust="spacing">RSI, MPLF.KA, 4:00 PM 7/16/2018, 25.057,</tspan><tspan x="298" fill="#000080" textLength="299" lengthAdjust="spacing">EMA, RSI(MPLF.KA), 4:00 PM 7/16/2018, 27.485</tspan></text>
<g clip-path="url(#cr)">
<rect x="16" y="579" width="1827" height="1" fill="#ff0000"/>
<rect x="16" y="609" width="1827" height="1" fill="#ff0000"/>
<polyline points="15.5,593.9 34.6,586.4 43.9,590.2 50.1,587.6 57.6,586.4 70.2,587.6 80.2,585.6 100.0,585.4 102.9,585.4 103.1,586.5 118.8,586.5 119.3,585.7 125.1,585.4 129.2,584.4 135.0,584.4 135.5,583.4 139.7,583.4 141.8,585.4 143.3,587.3 148.0,591.4 154.3,594.6 159.0,594.6 159.5,593.4 164.8,593.4 165.3,594.4 168.9,595.6 171.0,594.8 174.2,593.3 178.3,591.4 182.5,589.1 186.7,587.3 188.8,588.7 190.9,593.3 194.0,598.5 196.1,601.6 199.2,599.5 203.0,597.2 210.5,597.2 219.3,599.7 226.8,595.7 240.6,595.7 253.1,599.7 263.2,598.2 275.7,597.7 284.5,591.4 292.0,600.2 300.8,600.7 305.8,602.2 330.8,602.2 338.3,598.2 360.9,597.7 370.9,593.2 379.7,597.7 388.5,590.2 396.0,590.2 403.5,592.2 411.0,592.2 421.1,598.2 436.1,592.2 441.1,593.9 461.2,593.9 468.7,597.7 476.3,594.6 485.0,596.3 492.6,598.8 500.1,599.3 508.8,607.1 517.1,600.1 530.2,609.3 545.2,611.4 555.2,615.9 572.8,616.4 580.3,618.1 592.8,610.1 597.8,608.8 605.3,610.1 612.9,613.1 622.9,607.1 630.4,604.6 637.9,605.1 645.4,603.1 660.5,604.6 670.5,598.1 678.0,600.1 685.5,599.3 695.6,600.6 710.6,602.1 718.1,607.1 725.6,605.1 735.7,608.1 745.7,608.8 760.7,609.6 770.8,608.8 780.8,615.9 793.3,616.4 803.3,615.1 818.4,617.1 835.9,618.1 845.9,614.6 853.5,617.1 861.0,615.6 871.0,619.6 881.0,619.6 896.1,621.4 911.1,623.1 940.0,623.1 950.0,613.9 957.5,613.9 970.1,617.6 980.1,618.9 990.1,613.9 1002.7,610.6 1015.2,603.3 1030.2,603.3 1037.7,596.3 1047.8,595.8 1055.3,593.8 1065.3,588.0 1077.8,584.5 1085.4,585.0 1092.9,584.5 1102.9,584.5 1112.9,588.0 1120.5,593.1 1130.5,593.8 1143.0,598.1 1153.0,596.3 1163.1,597.1 1168.1,599.6 1174.3,605.1 1181.9,598.8 1190.6,602.1 1200.7,598.1 1210.7,595.1 1222.0,588.0 1232.0,589.5 1240.8,590.6 1245.8,593.1 1255.8,594.6 1263.3,595.6 1270.8,603.8 1278.3,606.3 1323.5,606.3 1333.5,605.6 1346.0,611.4 1366.1,611.4 1376.1,613.1 1383.6,607.1 1396.1,608.1 1410.0,609.6 1416.3,608.8 1423.8,603.1 1432.6,607.1 1440.1,611.4 1445.1,613.1 1477.7,613.1 1485.2,616.4 1490.2,618.9 1497.7,618.9 1505.2,616.4 1515.3,616.4 1522.8,613.9 1535.3,612.6 1544.1,608.8 1550.4,601.3 1560.4,599.6 1566.6,598.3 1575.4,602.6 1582.9,602.1 1590.5,605.1 1600.5,608.1 1610.5,607.1 1620.5,604.6 1633.1,602.6 1640.6,600.6 1650.6,600.6 1658.1,602.6 1665.6,603.8 1673.2,599.6 1680.7,601.3 1690.7,602.6 1700.7,607.1 1710.8,613.9 1723.3,614.6 1735.8,613.9 1743.3,612.1 1752.1,613.1" fill="none" stroke="#ff0000" stroke-width="1" stroke-linejoin="round" shape-rendering="crispEdges"/>
<polyline points="15.5,596.4 37.6,592.7 62.7,589.6 82.7,588.1 100.0,587.5 118.8,587.5 119.1,586.5 135.0,586.5 135.2,585.4 141.8,585.4 143.3,586.4 148.6,586.4 149.3,587.4 152.7,587.4 153.3,588.5 159.0,588.5 159.3,589.5 166.8,589.5 167.4,590.6 182.5,590.6 183.0,589.5 188.8,589.5 189.8,590.6 191.9,591.4 194.0,591.4 194.5,592.5 200.0,592.5 218.0,595.7 250.6,596.4 275.7,596.4 285.7,595.7 300.8,598.2 320.8,600.7 330.8,600.7 350.9,598.9 375.9,597.7 401.0,594.7 451.1,594.7 463.7,595.7 485.0,595.1 502.6,597.6 520.1,600.1 540.2,605.1 557.7,608.8 577.8,612.1 595.3,610.6 620.4,610.6 645.4,607.6 670.5,605.1 690.6,602.1 710.6,602.1 733.2,603.8 758.2,606.3 783.3,610.1 808.3,612.6 833.4,615.1 858.5,615.6 883.5,617.6 908.6,620.1 940.0,622.6 955.0,619.6 977.6,617.6 1002.7,615.1 1027.7,609.6 1052.8,602.1 1077.8,595.1 1105.4,588.8 1115.4,589.5 1140.5,592.6 1165.6,595.1 1190.6,598.1 1215.7,595.1 1240.8,593.1 1263.3,593.1 1278.3,598.1 1303.4,602.1 1336.0,604.6 1353.5,608.1 1378.6,608.8 1410.0,609.6 1442.6,608.8 1460.1,610.6 1482.7,612.6 1497.7,614.6 1515.3,615.1 1535.3,613.9 1550.4,611.4 1565.4,607.1 1585.4,605.1 1605.5,606.3 1623.0,605.6 1648.1,602.6 1673.2,602.1 1690.7,602.1 1705.7,605.1 1723.3,608.8 1735.8,610.1 1752.1,610.6" fill="none" stroke="#000080" stroke-width="1" stroke-linejoin="round" shape-rendering="crispEdges"/>
</g>
<text y="657" font-size="14"><tspan x="24" fill="#00ccff" textLength="283" lengthAdjust="spacing">StochS, MPLF.KA, 4:00 PM 7/16/2018, 4.487,</tspan><tspan x="310" fill="#5a3cff" textLength="35" lengthAdjust="spacing">2.991</tspan></text>
<g clip-path="url(#cs)">
<rect x="16" y="679" width="1827" height="1" fill="#00ccff"/>
<rect x="16" y="723" width="1827" height="1" fill="#00ccff"/>
<polyline points="15.5,694.4 27.6,693.6 37.6,691.9 50.1,691.9 65.2,694.4 75.2,699.4 87.7,703.7 100.3,704.4 112.8,707.7 122.8,711.2 132.8,708.7 147.9,699.4 155.4,699.4 162.9,707.7 172.9,718.7 180.5,720.2 190.5,713.2 203.0,703.7 213.0,706.2 220.6,710.7 230.6,708.7 245.6,699.4 255.6,703.7 265.7,718.2 275.7,725.7 285.7,716.2 300.8,703.7 308.3,712.7 323.3,728.7 330.8,723.2 340.9,711.9 350.9,689.4 363.4,675.6 373.4,675.6 391.0,680.6 406.0,698.2 426.1,710.7 433.6,711.2 446.1,701.9 458.6,691.9 468.7,691.1 480.0,692.6 492.6,698.8 507.6,716.4 517.6,722.2 523.9,723.9 532.7,722.2 540.2,726.4 555.2,731.4 565.2,730.7 577.8,734.7 587.8,731.4 595.3,720.2 605.3,700.1 614.1,691.3 620.4,692.1 630.4,698.8 636.7,697.1 645.4,689.6 654.2,681.3 661.7,680.0 670.5,683.1 680.5,688.8 690.6,688.8 703.1,693.8 716.9,713.9 728.1,721.4 740.7,723.9 758.2,730.2 768.2,731.4 783.3,730.2 798.3,730.7 808.3,728.9 820.9,727.7 838.4,732.7 858.5,731.4 881.0,733.2 896.1,727.2 906.1,723.9 921.1,729.7 933.7,733.2 940.0,733.2 950.0,727.2 966.3,705.6 973.8,705.1 988.9,725.7 997.6,728.2 1006.4,720.2 1020.2,690.1 1031.5,678.0 1045.3,671.3 1065.3,671.3 1070.3,672.0 1085.4,669.5 1100.4,665.0 1110.4,671.3 1120.5,692.6 1133.0,720.2 1143.0,728.9 1150.5,727.2 1165.6,713.1 1175.6,709.6 1183.1,710.1 1190.6,713.1 1205.7,706.4 1220.7,685.1 1232.0,674.5 1238.2,675.5 1248.3,687.6 1270.8,715.6 1285.9,730.2 1300.9,737.2 1318.4,737.2 1328.5,732.7 1343.5,713.9 1351.0,713.1 1366.1,720.2 1376.1,722.7 1391.1,712.6 1401.2,703.9 1408.7,704.3 1422.5,707.2 1440.1,711.4 1450.1,722.7 1465.1,736.5 1480.2,737.2 1492.7,734.7 1510.3,733.2 1525.3,730.7 1535.3,726.5 1550.4,710.2 1567.9,683.9 1575.4,678.8 1582.9,680.1 1595.5,700.2 1608.0,724.0 1615.5,730.2 1624.3,727.7 1635.6,706.4 1648.1,688.1 1654.4,683.9 1663.1,688.9 1680.7,712.7 1690.7,714.7 1705.7,718.9 1718.3,727.7 1730.8,735.2 1740.8,736.5 1752.1,735.5" fill="none" stroke="#5a3cff" stroke-width="1" stroke-linejoin="round" shape-rendering="crispEdges"/>
<polyline points="15.5,693.1 20.0,691.9 27.6,693.1 35.1,691.1 43.9,693.1 51.4,691.1 60.2,695.1 67.7,698.2 75.2,703.7 82.7,705.2 90.2,704.4 100.3,704.4 107.8,709.4 115.3,711.2 122.8,711.2 130.3,706.2 139.1,696.9 146.6,695.1 152.9,703.7 162.9,718.2 171.7,728.2 177.9,713.2 188.0,703.7 195.5,701.9 203.0,704.4 213.0,711.9 220.6,710.2 228.1,706.2 235.6,698.2 244.4,694.4 250.6,701.9 260.7,724.5 268.2,730.2 275.7,718.2 284.5,698.7 293.2,702.7 299.5,706.2 308.3,732.7 318.3,729.5 325.8,725.2 335.8,707.7 347.1,677.6 355.9,671.8 363.4,676.8 375.9,676.8 388.5,683.1 396.0,696.9 406.0,702.7 413.5,705.7 421.1,713.7 428.6,712.7 438.6,701.9 451.1,690.6 461.2,690.6 470.0,692.6 480.0,695.1 492.6,702.6 500.1,716.4 507.6,727.7 515.1,720.7 522.6,723.2 531.4,721.4 540.2,732.7 547.7,728.9 556.5,732.2 565.2,730.7 575.3,735.7 582.8,734.7 590.3,720.2 597.8,697.6 605.3,683.1 614.1,692.6 621.6,702.1 630.4,700.6 637.9,691.3 645.4,679.5 653.0,677.5 660.5,684.6 670.5,688.1 678.0,692.1 685.5,683.8 694.3,691.3 703.1,705.1 710.6,715.6 718.1,723.2 730.7,722.7 740.7,724.7 748.2,728.9 758.2,733.2 768.2,731.4 780.8,730.2 795.8,732.7 803.3,728.2 813.4,726.4 820.9,728.2 835.9,735.7 845.9,730.7 858.5,729.7 868.5,734.7 878.5,733.9 891.1,723.9 899.8,721.4 906.1,724.7 916.1,728.9 933.7,734.7 940.0,733.2 947.5,722.7 958.8,699.6 966.3,700.6 975.1,718.9 982.6,732.2 991.4,730.2 998.9,722.2 1010.2,700.1 1021.5,677.5 1029.0,673.8 1039.0,673.0 1046.5,668.8 1054.0,671.3 1062.8,673.0 1070.3,672.0 1077.8,667.0 1087.9,665.5 1100.4,665.0 1105.4,667.0 1115.4,687.6 1125.5,726.4 1135.5,731.4 1145.5,728.2 1155.5,715.6 1165.6,705.6 1174.3,711.4 1183.1,712.1 1190.6,715.6 1205.7,699.6 1213.2,682.6 1223.2,671.3 1230.7,672.5 1240.8,683.1 1255.8,703.9 1270.8,725.7 1287.1,737.2 1318.4,737.2 1326.0,725.7 1336.0,710.1 1343.5,710.1 1351.0,717.6 1359.8,727.2 1367.3,719.6 1376.1,722.2 1383.6,709.6 1391.1,706.4 1399.9,698.1 1408.7,707.6 1415.0,711.4 1422.5,706.4 1432.6,710.2 1440.1,714.7 1447.6,729.0 1460.1,736.5 1480.2,736.5 1490.2,734.0 1502.7,731.5 1512.8,734.0 1522.8,730.7 1532.8,724.0 1545.3,710.2 1557.9,690.1 1567.9,672.6 1575.4,678.8 1582.9,690.1 1593.0,707.7 1608.0,734.7 1615.5,730.2 1628.0,707.7 1640.6,685.1 1648.1,679.6 1656.9,685.1 1665.6,706.4 1680.7,717.7 1688.2,713.2 1700.7,717.7 1713.3,726.5 1728.3,737.2 1735.8,737.2 1745.8,734.7 1752.1,734.7" fill="none" stroke="#00ccff" stroke-width="1" stroke-linejoin="round" shape-rendering="crispEdges"/>
</g>
<text y="762" font-size="14"><tspan x="24" fill="#ff0066" textLength="272" lengthAdjust="spacing">MACD, MPLF.KA, 4:00 PM 7/16/2018, -1.05,</tspan><tspan x="300" fill="#00f0c0" textLength="33.5" lengthAdjust="spacing">-0.90</tspan></text>
<g clip-path="url(#cd)">
<rect x="16" y="781" width="1827" height="1" fill="#ff0070"/>
<polyline points="15.5,789.6 37.6,786.1 62.7,781.1 80.2,777.8 100.3,774.6 117.8,772.1 140.4,770.3 155.4,771.1 175.4,772.1 190.5,773.6 205.5,776.1 225.6,778.6 248.1,781.1 265.7,782.8 288.2,783.6 300.8,785.4 320.8,787.9 350.9,789.6 368.4,788.6 388.5,787.9 406.0,785.4 431.1,784.1 451.1,782.8 495.1,783.1 520.1,785.6 532.7,787.6 550.2,792.1 565.2,797.6 580.3,803.9 595.3,809.6 615.4,813.9 630.4,815.1 645.4,814.6 663.0,813.9 683.0,810.1 695.6,808.9 710.6,805.6 733.2,805.1 770.8,806.4 795.8,809.6 820.9,813.1 845.9,816.4 871.0,818.1 896.1,822.2 921.1,825.7 938.7,828.9 965.1,828.2 990.1,828.9 1007.7,827.2 1027.7,823.9 1045.3,818.1 1065.3,810.1 1085.4,800.1 1102.9,790.6 1118.0,785.1 1135.5,782.6 1153.0,781.3 1170.6,783.1 1190.6,784.6 1210.7,785.6 1230.7,783.8 1248.3,782.1 1263.3,781.3 1285.9,784.6 1310.9,790.1 1341.0,794.6 1366.1,798.1 1391.1,801.4 1410.0,803.9 1435.1,804.6 1460.1,808.9 1485.2,812.6 1515.3,816.4 1540.3,816.4 1560.4,812.6 1585.4,808.1 1610.5,804.6 1635.6,802.6 1650.6,799.6 1673.2,798.1 1698.2,795.6 1710.8,797.1 1730.8,799.6 1752.1,802.6" fill="none" stroke="#00f0c0" stroke-width="1" stroke-linejoin="round" shape-rendering="crispEdges"/>
<polyline points="15.5,788.6 25.1,785.4 37.6,781.1 50.1,777.8 65.2,774.1 80.2,771.6 97.7,769.6 112.8,769.1 142.9,769.1 152.9,772.1 170.4,774.6 185.5,774.1 195.5,778.6 213.0,781.1 225.6,782.1 238.1,782.8 250.6,784.1 263.2,785.4 278.2,784.6 288.2,784.1 300.8,787.1 315.8,789.6 328.3,791.1 350.9,790.4 365.9,788.6 381.0,787.1 396.0,783.6 413.5,782.8 431.1,783.6 451.1,782.1 480.0,782.1 495.1,783.8 507.6,787.1 520.1,789.6 532.7,795.1 547.7,802.6 557.7,808.9 570.3,813.9 580.3,818.1 605.3,818.1 612.9,820.2 625.4,818.1 640.4,815.6 650.5,812.6 663.0,811.4 670.5,807.6 683.0,805.1 695.6,803.1 708.1,801.4 720.6,802.6 735.7,804.6 745.7,806.4 770.8,807.1 783.3,811.4 795.8,815.1 815.9,817.6 833.4,819.6 861.0,818.1 871.0,822.2 891.1,825.2 911.1,829.7 933.7,833.2 943.7,833.2 950.0,830.2 965.1,827.7 972.6,828.2 982.6,830.2 992.6,828.9 1007.7,825.7 1020.2,820.2 1032.7,815.1 1045.3,808.9 1060.3,798.8 1075.3,787.6 1090.4,780.6 1102.9,776.3 1115.4,775.5 1128.0,776.3 1140.5,778.0 1153.0,780.6 1163.1,782.1 1178.1,786.3 1198.1,788.1 1210.7,785.6 1223.2,782.1 1235.7,779.5 1255.8,779.5 1263.3,781.3 1273.3,787.1 1285.9,791.3 1305.9,795.6 1328.5,797.6 1353.5,802.1 1378.6,804.6 1403.7,806.4 1410.0,805.6 1422.5,803.9 1435.1,806.4 1460.1,812.1 1480.2,812.1 1495.2,817.1 1507.7,819.1 1530.3,819.1 1545.3,815.6 1565.4,805.6 1585.4,802.6 1598.0,803.1 1615.5,803.1 1635.6,798.8 1653.1,796.3 1673.2,795.1 1680.7,793.8 1698.2,794.6 1710.8,799.6 1730.8,805.1 1743.3,805.1 1752.1,806.4" fill="none" stroke="#ff0070" stroke-width="1" stroke-linejoin="round" shape-rendering="crispEdges"/>
</g>
<text x="1849" y="565" fill="#c8c8c8" font-size="14" font-weight="bold">Value</text>
<rect x="1844" y="631" width="5" height="1" fill="#b0b0b0"/>
<rect x="1850.5" y="622.5" width="35" height="16" fill="#ffffff" stroke="#cccccc"/>
<text x="1851" y="636" fill="#c8c8c8" font-size="14" font-weight="bold" textLength="33.5" lengthAdjust="spacing">Auto</text>
<rect x="1844" y="588" width="68" height="17" fill="#000080"/>
<text x="1844" y="602" fill="#ffffff" font-size="14">27.485</text>
<rect x="1844" y="605" width="68" height="17" fill="#ff0000"/>
<text x="1844" y="619" fill="#000000" font-size="14" font-weight="bold" textLength="48" lengthAdjust="spacing">25.057</text>
<text x="1849" y="672" fill="#c8c8c8" font-size="14" font-weight="bold">Value</text>
<rect x="1844" y="701" width="5" height="1" fill="#b0b0b0"/>
<text x="1851" y="707" fill="#c8c8c8" font-size="14">50</text>
<rect x="1850.5" y="728.5" width="35" height="16" fill="#ffffff" stroke="#cccccc"/>
<text x="1851" y="742" fill="#c8c8c8" font-size="14" font-weight="bold" textLength="33.5" lengthAdjust="spacing">Auto</text>
<rect x="1844" y="726" width="68" height="17" fill="#00ccff"/>
<text x="1844" y="740" fill="#000000" font-size="14" font-weight="bold" textLength="40" lengthAdjust="spacing">4.487</text>
<text x="1849" y="777" fill="#c8c8c8" font-size="14" font-weight="bold">Value</text>
<rect x="1844" y="827" width="5" height="1" fill="#b0b0b0"/>
<rect x="1850.5" y="823.5" width="35" height="16" fill="#ffffff" stroke="#cccccc"/>
<text x="1851" y="837" fill="#c8c8c8" font-size="14" font-weight="bold" textLength="33.5" lengthAdjust="spacing">Auto</text>
<rect x="1844" y="781" width="68" height="17" fill="#00ffc0"/>
<text x="1844" y="795" fill="#000000" font-size="14">-0.90</text>
<rect x="1844" y="798" width="68" height="17" fill="#ff0070"/>
<text x="1844" y="812" fill="#000000" font-size="14" font-weight="bold" textLength="37" lengthAdjust="spacing">-1.05</text>
<text x="27" y="858" fill="#000000" font-size="14" text-anchor="middle">22</text>
<rect x="59" y="842" width="1" height="3" fill="#000000"/>
<text x="60.5" y="858" fill="#000000" font-size="14" text-anchor="middle">23</text>
<rect x="99" y="842" width="1" height="3" fill="#000000"/>
<text x="100.5" y="858" fill="#000000" font-size="14" text-anchor="middle">24</text>
<rect x="139" y="842" width="1" height="3" fill="#000000"/>
<text x="140.5" y="858" fill="#000000" font-size="14" text-anchor="middle">25</text>
<rect x="163" y="842" width="1" height="3" fill="#000000"/>
<text x="164.5" y="858" fill="#000000" font-size="14" text-anchor="middle">28</text>
<rect x="204" y="842" width="1" height="3" fill="#000000"/>
<text x="205.5" y="858" fill="#000000" font-size="14" text-anchor="middle">29</text>
<rect x="244" y="842" width="1" height="3" fill="#000000"/>
<text x="245.5" y="858" fill="#000000" font-size="14" text-anchor="middle">30</text>
<rect x="284" y="842" width="1" height="3" fill="#000000"/>
<text x="285.5" y="858" fill="#000000" font-size="14" text-anchor="middle">31</text>
<rect x="324" y="842" width="1" height="3" fill="#000000"/>
<text x="325.5" y="858" fill="#000000" font-size="14" text-anchor="middle">01</text>
<rect x="348" y="842" width="1" height="3" fill="#000000"/>
<text x="349.5" y="858" fill="#000000" font-size="14" text-anchor="middle">04</text>
<rect x="388" y="842" width="1" height="3" fill="#000000"/>
<text x="389.5" y="858" fill="#000000" font-size="14" text-anchor="middle">05</text>
<rect x="428" y="842" width="1" height="3" fill="#000000"/>
<text x="429.5" y="858" fill="#000000" font-size="14" text-anchor="middle">06</text>
<rect x="468" y="842" width="1" height="3" fill="#000000"/>
<text x="469.5" y="858" fill="#000000" font-size="14" text-anchor="middle">07</text>
<rect x="508" y="842" width="1" height="3" fill="#000000"/>
<text x="509.5" y="858" fill="#000000" font-size="14" text-anchor="middle">11</text>
<rect x="548" y="842" width="1" height="3" fill="#000000"/>
<text x="549.5" y="858" fill="#000000" font-size="14" text-anchor="middle">12</text>
<rect x="589" y="842" width="1" height="3" fill="#000000"/>
<text x="590.5" y="858" fill="#000000" font-size="14" text-anchor="middle">13</text>
<rect x="629" y="842" width="1" height="3" fill="#000000"/>
<text x="630.5" y="858" fill="#000000" font-size="14" text-anchor="middle">14</text>
<rect x="669" y="842" width="1" height="3" fill="#000000"/>
<text x="670.5" y="858" fill="#000000" font-size="14" text-anchor="middle">19</text>
<rect x="725" y="842" width="1" height="3" fill="#000000"/>
<text x="726.5" y="858" fill="#000000" font-size="14" text-anchor="middle">20</text>
<rect x="781" y="842" width="1" height="3" fill="#000000"/>
<text x="782.5" y="858" fill="#000000" font-size="14" text-anchor="middle">21</text>
<rect x="837" y="842" width="1" height="3" fill="#000000"/>
<text x="838.5" y="858" fill="#000000" font-size="14" text-anchor="middle">22</text>
<rect x="885" y="842" width="1" height="3" fill="#000000"/>
<text x="886.5" y="858" fill="#000000" font-size="14" text-anchor="middle">25</text>
<rect x="942" y="842" width="1" height="3" fill="#000000"/>
<text x="943.5" y="858" fill="#000000" font-size="14" text-anchor="middle">26</text>
<rect x="998" y="842" width="1" height="3" fill="#000000"/>
<text x="999.5" y="858" fill="#000000" font-size="14" text-anchor="middle">27</text>
<rect x="1054" y="842" width="1" height="3" fill="#000000"/>
<text x="1055.5" y="858" fill="#000000" font-size="14" text-anchor="middle">28</text>
<rect x="1110" y="842" width="1" height="3" fill="#000000"/>
<text x="1111.5" y="858" fill="#000000" font-size="14" text-anchor="middle">29</text>
<rect x="1158" y="842" width="1" height="3" fill="#000000"/>
<text x="1159.5" y="858" fill="#000000" font-size="14" text-anchor="middle">02</text>
<rect x="1214" y="842" width="1" height="3" fill="#000000"/>
<text x="1215.5" y="858" fill="#000000" font-size="14" text-anchor="middle">03</text>
<rect x="1270" y="842" width="1" height="3" fill="#000000"/>
<text x="1271.5" y="858" fill="#000000" font-size="14" text-anchor="middle">04</text>
<rect x="1327" y="842" width="1" height="3" fill="#000000"/>
<text x="1328.5" y="858" fill="#000000" font-size="14" text-anchor="middle">05</text>
<rect x="1383" y="842" width="1" height="3" fill="#000000"/>
<text x="1384.5" y="858" fill="#000000" font-size="14" text-anchor="middle">06</text>
<rect x="1431" y="842" width="1" height="3" fill="#000000"/>
<text x="1432.5" y="858" fill="#000000" font-size="14" text-anchor="middle">09</text>
<rect x="1487" y="842" width="1" height="3" fill="#000000"/>
<text x="1488.5" y="858" fill="#000000" font-size="14" text-anchor="middle">10</text>
<rect x="1543" y="842" width="1" height="3" fill="#000000"/>
<text x="1544.5" y="858" fill="#000000" font-size="14" text-anchor="middle">11</text>
<rect x="1599" y="842" width="1" height="3" fill="#000000"/>
<text x="1600.5" y="858" fill="#000000" font-size="14" text-anchor="middle">12</text>
<rect x="1655" y="842" width="1" height="3" fill="#000000"/>
<text x="1656.5" y="858" fill="#000000" font-size="14" text-anchor="middle">13</text>
<rect x="1704" y="842" width="1" height="3" fill="#000000"/>
<text x="1705.5" y="858" fill="#000000" font-size="14" text-anchor="middle">16</text>
<rect x="1760" y="842" width="1" height="3" fill="#000000"/>
<text x="1761.5" y="858" fill="#000000" font-size="14" text-anchor="middle">17</text>
<rect x="1816" y="842" width="1" height="3" fill="#000000"/>
<text x="1817.5" y="858" fill="#000000" font-size="14" text-anchor="middle">18</text>
<text x="138" y="875" fill="#000000" font-size="14" font-weight="bold" textLength="67" lengthAdjust="spacing">May 2018</text>
<text x="704" y="875" fill="#000000" font-size="14" font-weight="bold" textLength="73" lengthAdjust="spacing">June 2018</text>
<text x="1467" y="875" fill="#000000" font-size="14" font-weight="bold" textLength="67" lengthAdjust="spacing">July 2018</text>
<rect x="324" y="862" width="1" height="17" fill="#000000"/>
<rect x="1158" y="862" width="1" height="17" fill="#000000"/>
<rect x="3" y="878" width="1908" height="4" fill="#efefef"/>
<rect x="0" y="0" width="1912" height="1" fill="#a0a0a0"/>
<rect x="0" y="0" width="1" height="883" fill="#a0a0a0"/>
<rect x="1" y="1" width="1911" height="1" fill="#696969"/>
<rect x="1" y="1" width="1" height="882" fill="#696969"/>
<rect x="1912" y="0" width="2" height="885" fill="#000000"/>
<rect x="1914" y="0" width="1" height="885" fill="#4a4a50"/>
<rect x="0" y="883" width="1915" height="2" fill="#000000"/>
</svg>
</body></html>
